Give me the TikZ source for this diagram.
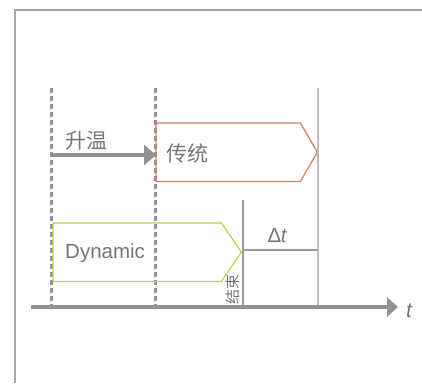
\documentclass[tikz,border=0pt]{standalone}
\usepackage{fontspec}
\setmainfont{Liberation Sans}
\newfontfamily\cjk{Noto Sans CJK SC}
\usetikzlibrary{positioning,arrows.meta}
\definecolor{axisgray}{RGB}{145,145,150}
\definecolor{linegray}{RGB}{155,155,158}
\definecolor{lightgray}{RGB}{190,190,192}
\definecolor{framegray}{RGB}{165,165,165}
\definecolor{txtgray}{RGB}{118,118,122}
\definecolor{tradred}{RGB}{214,122,92}
\definecolor{dyngreen}{RGB}{178,212,72}

\begin{document}
\begin{tikzpicture}[x=1pt, y=-1pt,
                    every node/.style = {text=txtgray, inner sep=0pt},
                    big/.style = {font=\fontsize{20.5}{24}\selectfont},
                    cjkbig/.style = {font=\cjk\fontsize{21}{24}\selectfont},
                    small/.style = {font=\cjk\fontsize{15}{18}\selectfont},
                    guide/.style = {draw=axisgray, line width=3pt,
                      dash pattern=on 5pt off 3pt},
                    heavy/.style = {draw=axisgray, line width=3.4pt},
                    thin/.style = {draw=linegray, line width=1.2pt},
                    box/.style = {minimum height=58pt, anchor=north west}]
  \useasboundingbox (0,0) rectangle (422,383);
  % frame
  \draw[framegray, line width=1.2pt] (15,383) -- (15,10) -- (422,10);
  % time axis
  \coordinate (t0) at (31,307);
  \coordinate (t1) at (398,307);
  \draw[heavy, -{Triangle[length=11pt,width=19pt]}] (t0) -- (t1);
  \node[font=\itshape\fontsize{21}{24}\selectfont] (tlab) at (409,311) {t};
  % guides
  \draw[guide] (51,88) -- (51,305);
  \draw[guide] (155,88) -- (155,305);
  % boxes
  \node[box, minimum width=144pt] (trad) at (156,123) {};
  \node[box, minimum width=168pt] (dyn) at (53,223) {};
  \draw[tradred, line width=1.2pt] (trad.north west) -- (trad.north east)
    -- ([xshift=17pt]trad.east) -- (trad.south east) -- (trad.south west) -- cycle;
  \draw[dyngreen, line width=1.2pt] (dyn.north west) -- (dyn.north east)
    -- ([xshift=20pt]dyn.east) -- (dyn.south east) -- (dyn.south west) -- cycle;
  \node[cjkbig, anchor=west] (tradlab) at (166,153) {传统};
  \node[big, anchor=west] (dynlab) at (65,253) {Dynamic};
  % heating
  \coordinate (h0) at (53,155);
  \draw[heavy, -{Triangle[length=12pt,width=20pt]}] (h0) -- (trad.west |- h0);
  \node[cjkbig] (heat) at (86,141) {升温};
  % end marks
  \coordinate (e1) at (243,200);
  \coordinate (e2) at (318,88);
  \draw[thin] (e1) -- (e1 |- 0,305);
  \draw[draw=lightgray, line width=1.2pt] (e2) -- (e2 |- 0,305);
  \draw[thin] (e1 |- 0,250) -- (e2 |- 0,250);
  \node[big] (dt) at (277,236) {Δ\kern-0.5pt\itshape t};
  \node[small, rotate=90] (endlab) at (233,289) {结束};
\end{tikzpicture}
\end{document}
